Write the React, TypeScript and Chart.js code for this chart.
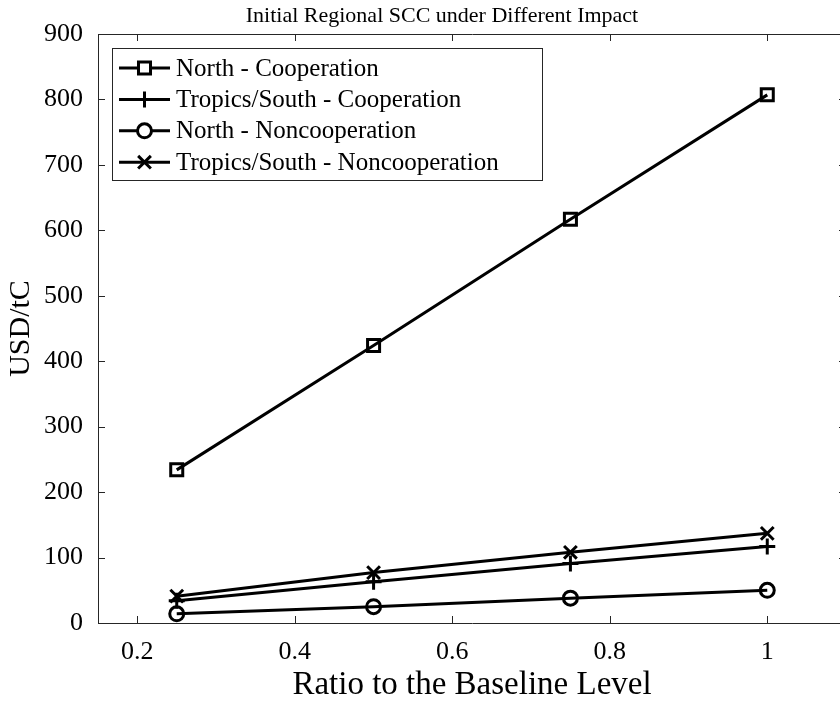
import React, { useEffect, useRef } from "react";
import { Chart, registerables } from "chart.js";
import { drawPoint } from "chart.js/helpers";

Chart.register(...registerables);

const TITLE = "Initial Regional SCC under Different Impact";
const X_TITLE = "Ratio to the Baseline Level";
const Y_TITLE = "USD/tC";
const RATIOS = [0.25, 0.5, 0.75, 1];
const X_TICKS = [0.2, 0.4, 0.6, 0.8, 1];
const Y_TICKS = [0, 100, 200, 300, 400, 500, 600, 700, 800, 900];
const SERIES_LABELS = [
  "North - Cooperation",
  "Tropics/South - Cooperation",
  "North - Noncooperation",
  "Tropics/South - Noncooperation",
];
const NORTH_COOP = [234, 424, 617, 807];
const TROPICS_COOP = [34, 63, 91, 117];
const NORTH_NONCOOP = [14, 25, 38, 50];
const TROPICS_NONCOOP = [41, 77, 108, 137];

const FONT = '"Liberation Serif", "Times New Roman", serif';
const FRAME = "#262626";

const frameTicksPlugin = {
  id: "frameTicks",
  afterDraw(chart: any) {
    const { ctx, chartArea } = chart;
    const { left, right, top, bottom } = chartArea;
    const xs = chart.scales.x;
    const ys = chart.scales.y;
    const len = 7;
    ctx.save();
    ctx.strokeStyle = FRAME;
    ctx.lineWidth = 1;
    ctx.beginPath();
    ctx.rect(left + 0.5, top + 0.5, right - left, bottom - top);
    xs.ticks.forEach((t: any) => {
      const px = Math.round(xs.getPixelForValue(t.value)) + 0.5;
      ctx.moveTo(px, bottom);
      ctx.lineTo(px, bottom - len);
      ctx.moveTo(px, top);
      ctx.lineTo(px, top + len);
    });
    ys.ticks.forEach((t: any) => {
      const py = Math.round(ys.getPixelForValue(t.value)) + 0.5;
      ctx.moveTo(left, py);
      ctx.lineTo(left + len, py);
      ctx.moveTo(right, py);
      ctx.lineTo(right - len, py);
    });
    ctx.stroke();

    // title
    ctx.fillStyle = "#000";
    ctx.font = `22px ${FONT}`;
    ctx.textAlign = "center";
    ctx.textBaseline = "middle";
    ctx.fillText(TITLE, 442, 16);

    // legend box
    const x0 = left + 14;
    const y0 = top + 14;
    const w = 430;
    const h = 132;
    ctx.fillStyle = "#fff";
    ctx.fillRect(x0, y0, w, h);
    ctx.strokeStyle = FRAME;
    ctx.lineWidth = 1;
    ctx.strokeRect(x0 + 0.5, y0 + 0.5, w, h);
    chart.data.datasets.forEach((ds: any, i: number) => {
      const cy = y0 + 20 + i * 31.4;
      ctx.strokeStyle = "#000";
      ctx.lineWidth = ds.borderWidth;
      ctx.beginPath();
      ctx.moveTo(x0 + 7, cy);
      ctx.lineTo(x0 + 58, cy);
      ctx.stroke();
      ctx.fillStyle = "#fff";
      drawPoint(
        ctx,
        {
          pointStyle: ds.pointStyle,
          radius: ds.pointRadius,
          borderWidth: ds.pointBorderWidth,
          rotation: 0,
        } as any,
        x0 + 32.5,
        cy
      );
      ctx.fillStyle = "#000";
      ctx.font = `25px ${FONT}`;
      ctx.textAlign = "left";
      ctx.textBaseline = "middle";
      ctx.fillText(ds.label, x0 + 64, cy + 1);
    });
    ctx.restore();
  },
};

function mk(label: string, ys: number[], style: string, r: number) {
  return {
    label,
    data: RATIOS.map((x, i) => ({ x, y: ys[i] })),
    borderColor: "#000",
    backgroundColor: "rgba(0,0,0,0)",
    borderWidth: 3,
    pointStyle: style,
    pointRadius: r,
    pointBorderWidth: 3,
    pointBorderColor: "#000",
    pointBackgroundColor: "rgba(0,0,0,0)",
    tension: 0,
  };
}

export default function App() {
  const ref = useRef<HTMLCanvasElement>(null);
  useEffect(() => {
    if (!ref.current) return;
    const chart = new Chart(ref.current, {
      type: "line",
      data: {
        datasets: [
          mk(SERIES_LABELS[0], NORTH_COOP, "rect", 8.5),
          mk(SERIES_LABELS[1], TROPICS_COOP, "cross", 8),
          mk(SERIES_LABELS[2], NORTH_NONCOOP, "circle", 7),
          mk(SERIES_LABELS[3], TROPICS_NONCOOP, "crossRot", 9),
        ] as any,
      },
      options: {
        animation: false,
        responsive: false,
        devicePixelRatio: 1,
        layout: { padding: { left: 0, top: 34, right: 14, bottom: 0 } },
        plugins: {
          legend: { display: false },
          title: { display: false },
          tooltip: { enabled: false },
        },
        scales: {
          x: {
            type: "linear",
            min: 0.15,
            max: 1.1,
            afterBuildTicks: (s: any) => {
              s.ticks = X_TICKS.map((v) => ({ value: v }));
            },
            afterFit: (s: any) => {
              s.height = 79;
            },
            grid: { display: false, drawTicks: false },
            border: { display: false },
            ticks: {
              color: "#000",
              font: { family: FONT, size: 26 },
              padding: 14,
              maxRotation: 0,
              callback: (v: any) => String(v),
            },
            title: {
              display: true,
              text: X_TITLE,
              color: "#000",
              font: { family: FONT, size: 33, lineHeight: 1 },
              padding: { top: 0, bottom: 0 },
            },
          },
          y: {
            type: "linear",
            min: 0,
            max: 900,
            afterBuildTicks: (s: any) => {
              s.ticks = Y_TICKS.map((v) => ({ value: v }));
            },
            afterFit: (s: any) => {
              s.width = 98;
            },
            grid: { display: false, drawTicks: false },
            border: { display: false },
            ticks: {
              color: "#000",
              font: { family: FONT, size: 26 },
              padding: 15,
              callback: (v: any) => String(v),
            },
            title: {
              display: true,
              text: Y_TITLE,
              color: "#000",
              font: { family: FONT, size: 30 },
              padding: { top: 3, bottom: 0 },
            },
          },
        },
      },
      plugins: [frameTicksPlugin],
    });
    return () => chart.destroy();
  }, []);
  return (
    <div
      style={{
        position: "absolute",
        left: 0,
        top: 0,
        width: 840,
        height: 702,
        overflow: "hidden",
        background: "#fff",
      }}
    >
      <canvas ref={ref} width={860} height={702} style={{ display: "block" }} />
    </div>
  );
}
